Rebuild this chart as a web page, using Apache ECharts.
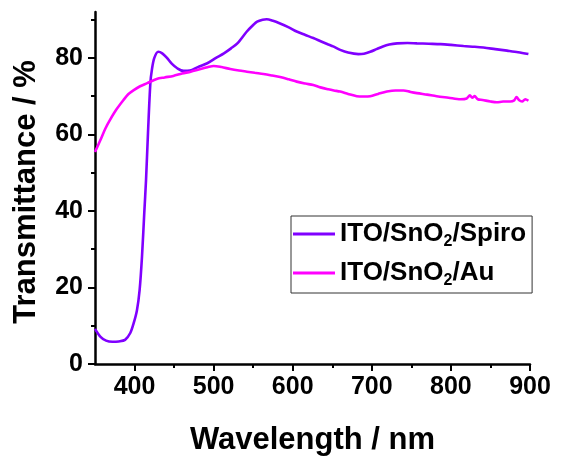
<!DOCTYPE html>
<html>
<head>
<meta charset="utf-8">
<script src="https://cdn.jsdelivr.net/npm/echarts@6/dist/echarts.min.js"></script>
<style>
  html, body { margin: 0; padding: 0; background: #fff; }
  #chart { width: 561px; height: 457px; }
</style>
</head>
<body>
<div id="chart"></div>
<script>
// Transmittance spectra (wavelength in nm, transmittance in %)
const spiroName = 'ITO/SnO2/Spiro';
const auName = 'ITO/SnO2/Au';

const spiroWavelength = [350, 357, 364, 372, 380, 388, 394.6, 398.8, 403, 406.4, 409.4, 412.3, 414.5, 417, 420, 422, 425, 430, 435, 441, 447, 454, 462, 470, 480, 492, 503, 513, 522, 530, 542, 550, 555, 562, 567, 575, 584, 595, 605, 616, 626, 636, 645, 651, 660, 670, 683, 690, 698, 706, 714, 722, 732, 745, 757, 772, 787, 800, 816, 830, 841, 856, 871, 885, 898];
const spiroT = [9.2, 7.1, 6.1, 5.8, 5.9, 6.3, 8.1, 10.6, 14, 19.3, 28, 39.5, 48, 60.4, 73.4, 77, 80, 81.6, 81.2, 80, 78.5, 77.3, 76.6, 76.7, 77.6, 78.6, 80, 81.2, 82.5, 83.8, 86.9, 88.6, 89.5, 90, 90.1, 89.7, 89, 88, 86.9, 86, 85.2, 84.3, 83.5, 83, 82.1, 81.4, 81, 81.1, 81.6, 82.3, 83, 83.5, 83.8, 83.9, 83.8, 83.7, 83.6, 83.4, 83.1, 82.9, 82.7, 82.3, 81.9, 81.5, 81.0];

const auWavelength = [350, 357, 363, 369, 377, 386, 392, 399, 407, 416, 428, 438, 449, 460, 471, 480, 487, 494, 500, 510, 521, 532, 542, 552, 563, 574, 584, 595, 605, 616, 626, 635, 645, 652, 660, 670, 681, 690, 698, 708, 719, 730, 740, 749, 757, 770, 782, 797, 812, 820, 824, 827, 830, 834, 840, 850, 858, 866, 875, 880, 883, 886, 890, 894, 898];
const auT = [55.4, 58.6, 61.5, 63.8, 66.5, 69, 70.5, 71.6, 72.6, 73.4, 74.5, 74.9, 75.3, 75.9, 76.4, 76.9, 77.3, 77.7, 77.9, 77.6, 77.1, 76.7, 76.4, 76.1, 75.8, 75.4, 75.0, 74.4, 73.8, 73.3, 72.9, 72.3, 71.8, 71.5, 71.2, 70.6, 70.0, 69.9, 70.0, 70.6, 71.2, 71.5, 71.5, 71.1, 70.8, 70.4, 70.0, 69.6, 69.2, 69.4, 70.2, 69.6, 70.0, 69.2, 69.0, 68.6, 68.4, 68.6, 68.6, 68.9, 69.8, 69.0, 68.6, 69.2, 68.8];

// Axis ranges and tick positions
const xRange = [350, 900];
const yRange = [0, 92];
const xMajorTicks = [400, 500, 600, 700, 800, 900];
const xMinorTicks = [450, 550, 650, 750, 850];
const yMajorTicks = [0, 20, 40, 60, 80];
const yMinorTicks = [10, 30, 50, 70, 90];

const FONT = '"Liberation Sans", Arial, sans-serif';
const spiroColor = '#8000ff';
const auColor = '#ff00ff';

const pairs = (xs, ys) => xs.map((x, i) => [x, ys[i]]);

const chart = echarts.init(document.getElementById('chart'), null, { renderer: 'canvas' });

const tickLabel = { color: '#000', fontFamily: FONT, fontWeight: 'bold', fontSize: 25 };
const titleStyle = { color: '#000', fontFamily: FONT, fontWeight: 'bold', fontSize: 31 };

const option = {
  animation: false,
  backgroundColor: '#fff',
  grid: { left: 95, right: 31, top: 12, bottom: 93, containLabel: false, outerBoundsMode: 'none' },
  legend: {
    orient: 'vertical',
    left: 291,
    top: 216,
    padding: [5, 6, 4, 2],
    borderColor: '#333',
    borderWidth: 1,
    itemWidth: 42,
    itemHeight: 3,
    itemGap: 10,
    icon: 'rect',
    data: [spiroName, auName],
    formatter: name => {
      const parts = name.split('SnO2');
      return '{a|' + parts[0] + 'SnO}{s|2}{a|' + parts[1] + '}';
    },
    textStyle: {
      rich: {
        a: { fontFamily: FONT, fontWeight: 'bold', fontSize: 26, color: '#000', lineHeight: 32 },
        s: { fontFamily: FONT, fontWeight: 'bold', fontSize: 16, color: '#000', lineHeight: 11, verticalAlign: 'bottom' }
      }
    }
  },
  xAxis: [
    {
      type: 'value',
      min: xRange[0],
      max: xRange[1],
      name: 'Wavelength / nm',
      nameLocation: 'middle',
      nameGap: 61,
      nameTextStyle: titleStyle,
      axisLine: { show: true, onZero: false, lineStyle: { color: '#000', width: 2.5 } },
      axisTick: { show: true, length: 7, customValues: xMajorTicks, lineStyle: { color: '#000', width: 2 } },
      axisLabel: Object.assign({ margin: 11, customValues: xMajorTicks }, tickLabel),
      splitLine: { show: false }
    },
    {
      type: 'value',
      position: 'bottom',
      min: xRange[0],
      max: xRange[1],
      axisLine: { show: false, onZero: false },
      axisTick: { show: true, length: 4, customValues: xMinorTicks, lineStyle: { color: '#000', width: 2 } },
      axisLabel: { show: false },
      splitLine: { show: false }
    }
  ],
  yAxis: [
    {
      type: 'value',
      min: yRange[0],
      max: yRange[1],
      name: 'Transmittance / %',
      nameLocation: 'middle',
      nameGap: 53,
      nameTextStyle: Object.assign({ padding: [0, 8, 0, 0] }, titleStyle),
      axisLine: { show: true, onZero: false, lineStyle: { color: '#000', width: 2.5 } },
      axisTick: { show: true, length: 7, customValues: yMajorTicks, lineStyle: { color: '#000', width: 2 } },
      axisLabel: Object.assign({ margin: 12, customValues: yMajorTicks }, tickLabel),
      splitLine: { show: false }
    },
    {
      type: 'value',
      position: 'left',
      min: yRange[0],
      max: yRange[1],
      axisLine: { show: false, onZero: false },
      axisTick: { show: true, length: 4, customValues: yMinorTicks, lineStyle: { color: '#000', width: 2 } },
      axisLabel: { show: false },
      splitLine: { show: false }
    }
  ],
  series: [
    {
      name: spiroName,
      type: 'line',
      xAxisIndex: 0,
      yAxisIndex: 0,
      symbol: 'none',
      smooth: 0.3,
      color: spiroColor,
      lineStyle: { color: spiroColor, width: 2.6 },
      data: pairs(spiroWavelength, spiroT)
    },
    {
      name: auName,
      type: 'line',
      xAxisIndex: 0,
      yAxisIndex: 0,
      symbol: 'none',
      smooth: 0.3,
      color: auColor,
      lineStyle: { color: auColor, width: 2.6 },
      data: pairs(auWavelength, auT)
    }
  ]
};

chart.setOption(option);
</script>
</body>
</html>
